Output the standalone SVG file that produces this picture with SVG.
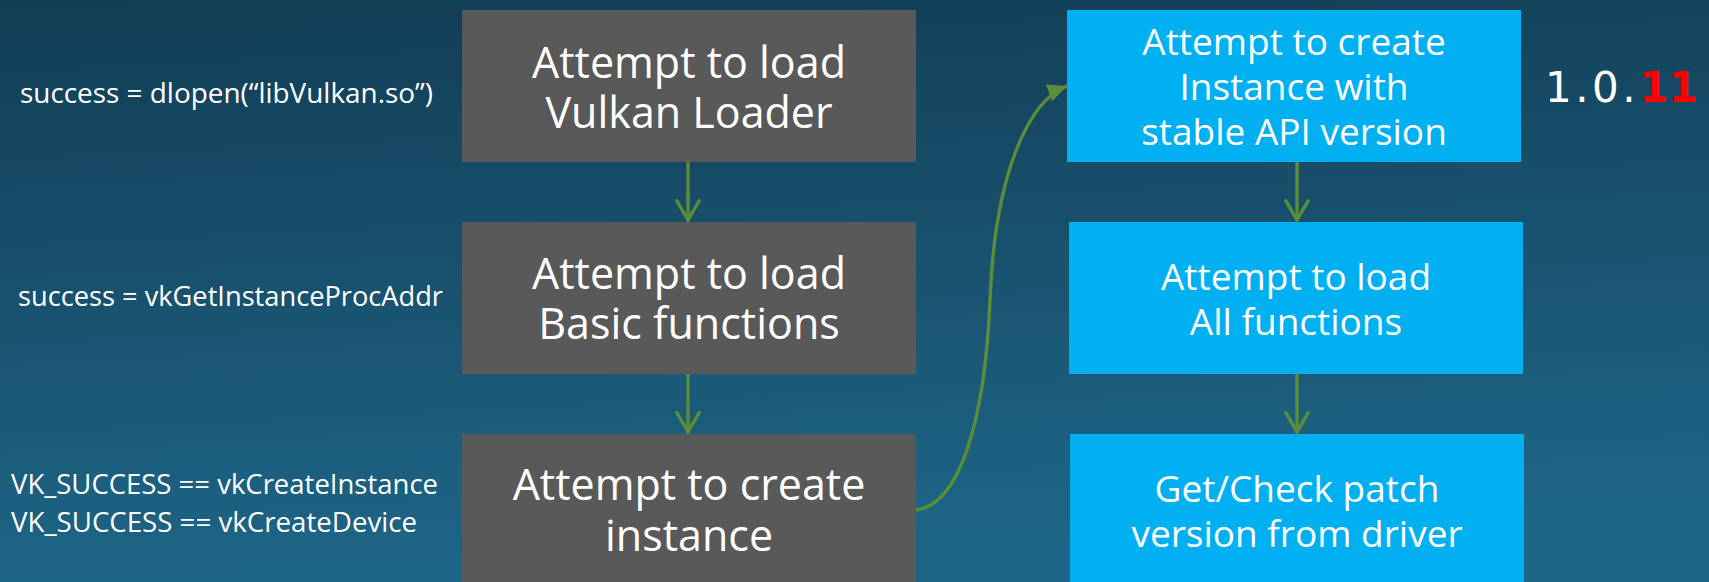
<svg xmlns="http://www.w3.org/2000/svg" width="1709" height="582" viewBox="0 0 1709 582">
  <defs>
    <linearGradient id="bg" x1="0" y1="0" x2="0.15" y2="1">
      <stop offset="0" stop-color="#123d54"/>
      <stop offset="1" stop-color="#1e6687"/>
    </linearGradient>
    <marker id="chevron" markerUnits="userSpaceOnUse" markerWidth="30" markerHeight="30" viewBox="-24 -14 28 28" refX="0" refY="0" orient="auto">
      <path d="M-19,-10.5 L-1,0 L-19,10.5" fill="none" stroke="#5b8d3a" stroke-width="3.2" stroke-linecap="round" stroke-linejoin="miter"/>
    </marker>
    <marker id="tri" markerUnits="userSpaceOnUse" markerWidth="24" markerHeight="24" viewBox="-18 -10 20 20" refX="0" refY="0" orient="auto">
      <path d="M0,0 L-16,-7.5 L-16,7.5 Z" fill="#5b8d3a"/>
    </marker>
    <style>
      .gray { fill: #595959; }
      .blue { fill: #00b0f0; }
      .big { font-family: "Open Sans", "Noto Sans", sans-serif; font-size: 43px; fill: #ffffff; text-anchor: middle; }
      .mid { font-family: "Open Sans", "Noto Sans", sans-serif; font-size: 37px; fill: #ffffff; text-anchor: middle; }
      .note { font-family: "Open Sans", "Noto Sans", sans-serif; font-size: 26.5px; fill: #ffffff; }
      .edge { fill: none; stroke: #5b8d3a; stroke-width: 3.4; }
    </style>
  </defs>

  <!-- backdrop -->
  <rect x="0" y="0" width="1709" height="582" fill="url(#bg)"/>

  <!-- left column annotations -->
  <g id="notes">
    <text class="note" x="20" y="103" textLength="413" lengthAdjust="spacingAndGlyphs">success = dlopen(“libVulkan.so”)</text>
    <text class="note" x="18" y="306" textLength="425" lengthAdjust="spacingAndGlyphs">success = vkGetInstanceProcAddr</text>
    <text class="note" x="11" y="494" textLength="427" lengthAdjust="spacingAndGlyphs">VK_SUCCESS == vkCreateInstance</text>
    <text class="note" x="11" y="532" textLength="406" lengthAdjust="spacingAndGlyphs">VK_SUCCESS == vkCreateDevice</text>
  </g>

  <!-- gray column -->
  <g id="load-loader">
    <rect class="gray" x="462" y="10" width="454" height="152"/>
    <text class="big" x="689" y="78">Attempt to load</text>
    <text class="big" x="689" y="128">Vulkan Loader</text>
  </g>
  <g id="load-basic">
    <rect class="gray" x="462" y="222" width="454" height="152"/>
    <text class="big" x="689" y="289">Attempt to load</text>
    <text class="big" x="689" y="339">Basic functions</text>
  </g>
  <g id="create-instance">
    <rect class="gray" x="462" y="434" width="454" height="152"/>
    <text class="big" x="689" y="500">Attempt to create</text>
    <text class="big" x="689" y="551">instance</text>
  </g>

  <!-- blue column -->
  <g id="create-stable">
    <rect class="blue" x="1067" y="10" width="454" height="152"/>
    <text class="mid" x="1294" y="55">Attempt to create</text>
    <text class="mid" x="1294" y="100">Instance with</text>
    <text class="mid" x="1294" y="145">stable API version</text>
  </g>
  <g id="load-all">
    <rect class="blue" x="1069" y="222" width="454" height="152"/>
    <text class="mid" x="1296" y="290">Attempt to load</text>
    <text class="mid" x="1296" y="335">All functions</text>
  </g>
  <g id="check-patch">
    <rect class="blue" x="1070" y="434" width="454" height="152"/>
    <text class="mid" x="1297" y="502">Get/Check patch</text>
    <text class="mid" x="1297" y="547">version from driver</text>
  </g>

  <!-- version label -->
  <g id="version">
    <text x="1545" y="102" font-family="'DejaVu Sans', sans-serif" font-size="42" fill="#ffffff"><tspan letter-spacing="3.5">1.0.</tspan><tspan fill="#ff0000" font-weight="bold">11</tspan></text>
  </g>

  <!-- connectors -->
  <g id="connectors">
    <line class="edge" x1="688" y1="162" x2="688" y2="221" marker-end="url(#chevron)"/>
    <line class="edge" x1="688" y1="374" x2="688" y2="433" marker-end="url(#chevron)"/>
    <line class="edge" x1="1297" y1="162" x2="1297" y2="221" marker-end="url(#chevron)"/>
    <line class="edge" x1="1297" y1="374" x2="1297" y2="433" marker-end="url(#chevron)"/>
    <path class="edge" d="M916,510 C960,505 985,420 990,300 C995,170 1030,100 1067,86" marker-end="url(#tri)"/>
  </g>
</svg>
